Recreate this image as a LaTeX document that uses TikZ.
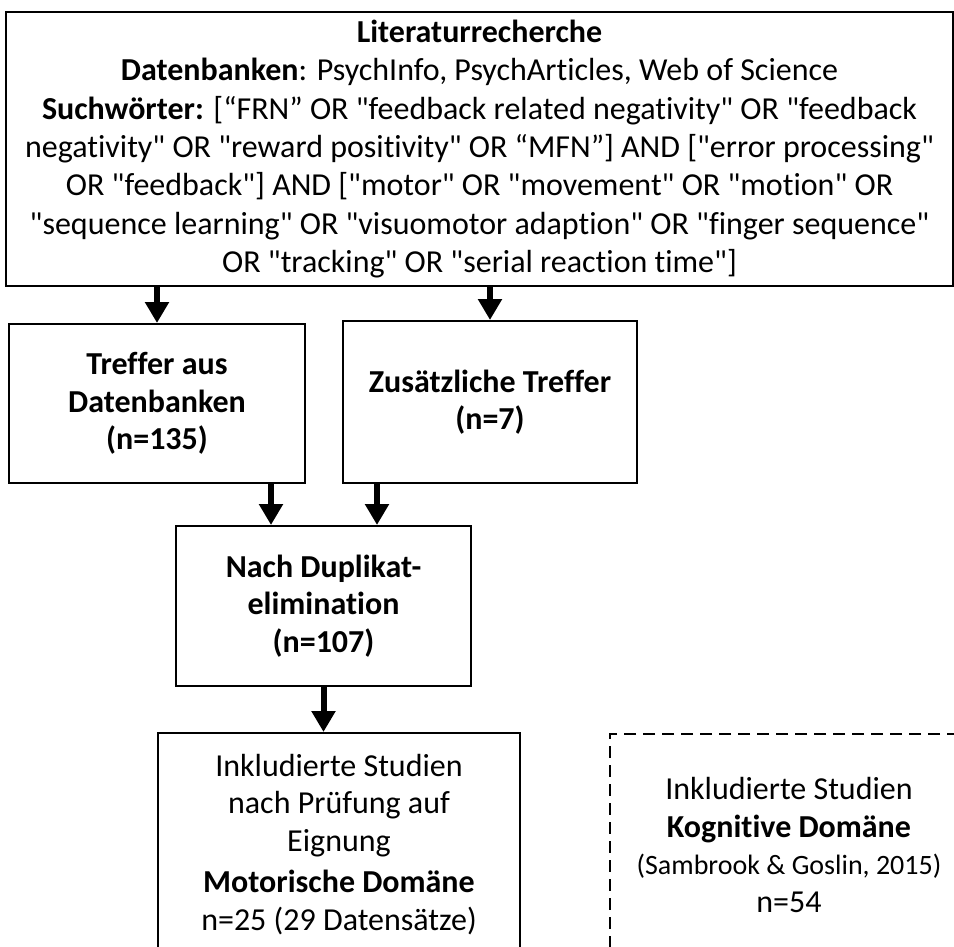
\documentclass[tikz,border=0pt]{standalone}
\usepackage{fontspec}
\setmainfont{Carlito}[Ligatures={TeXOff,NoCommon}]
\usetikzlibrary{arrows.meta}
\begin{document}
\begin{tikzpicture}[x=1pt,y=-1pt,
  box/.style={draw,line width=2pt,anchor=north west,align=center,inner sep=0pt,font=\fontsize{32}{37.5}\selectfont},
  bbox/.style={box,font=\bfseries\fontsize{32}{37.5}\selectfont},
  dbox/.style={box,dash pattern=on 12pt off 7pt},
  arr/.style={line width=6pt,-{Triangle[width=23pt,length=21pt]}}]
\useasboundingbox (0,0) rectangle (954,947);
\clip (0,0) rectangle (954,947);
\node[box,font=\fontsize{32}{38.3}\selectfont,minimum width=947pt,minimum height=274pt] (top) at (5,11) {\textbf{Literaturrecherche}\\
\textbf{Datenbanken}: PsychInfo, PsychArticles, Web of Science\\
\textbf{Suchwörter:} [“FRN” OR "feedback related negativity" OR "feedback\\
negativity" OR "reward positivity" OR “MFN”] AND ["error processing"\\
OR "feedback"] AND ["motor" OR "movement" OR "motion" OR\\
"sequence learning" OR "visuomotor adaption" OR "finger sequence"\\
OR "tracking" OR "serial reaction time"]};
\node[bbox,minimum width=296pt,minimum height=159pt] (tref) at (8,323) {Treffer aus\\ Datenbanken\\ (n=135)};
\node[bbox,minimum width=294pt,minimum height=162pt] (zus) at (342,320) {Zusätzliche Treffer\\ (n=7)};
\node[bbox,minimum width=295pt,minimum height=160pt] (nach) at (175,525) {Nach Duplikat-\\ elimination\\ (n=107)};
\node[box,minimum width=362pt,minimum height=223pt] (mot) at (157,732) {Inkludierte Studien\\ nach Prüfung auf\\ Eignung\\[4pt] \textbf{Motorische Domäne}\\ n=25 (29 Datensätze)};
\node[dbox,minimum width=358pt,minimum height=222pt] (kog) at (609,733) {Inkludierte Studien\\ \textbf{Kognitive Domäne}\\ {\fontsize{28}{35}\selectfont (Sambrook \& Goslin, 2015)}\\ n=54};
\coordinate (b1) at ([xshift=-52.5pt]nach.north);
\coordinate (b2) at ([xshift=53.5pt]nach.north);
\draw[arr] (tref.north |- top.south) -- (tref.north);
\draw[arr] (zus.north |- top.south) -- (zus.north);
\draw[arr] (b1 |- tref.south) -- (b1);
\draw[arr] (b2 |- zus.south) -- (b2);
\draw[arr] (nach.south) -- (nach.south |- mot.north);
\end{tikzpicture}
\end{document}
